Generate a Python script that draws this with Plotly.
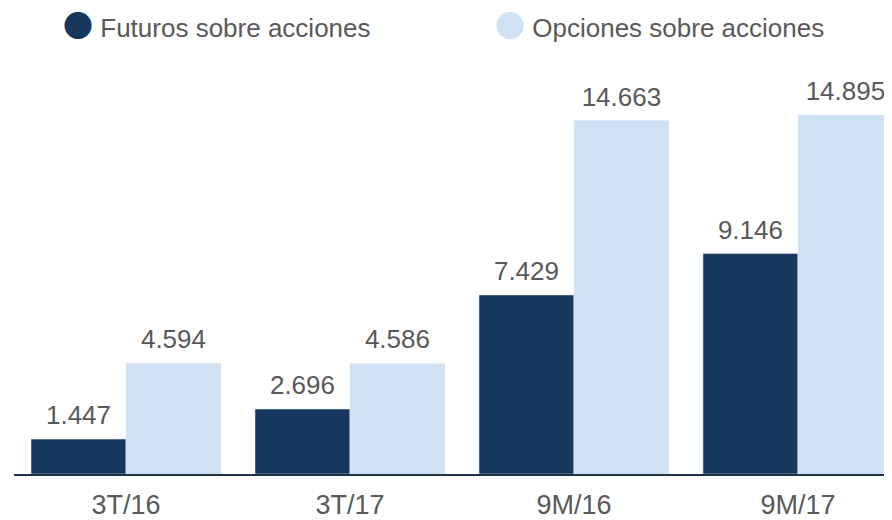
import plotly.graph_objects as go

# Volumen (miles de contratos)
categorias = ['3T/16', '3T/17', '9M/16', '9M/17']
futuros = [1447, 2696, 7429, 9146]
opciones = [4594, 4586, 14663, 14895]

color_futuros = '#17375E'
color_opciones = '#D0E1F3'
gris = '#595959'
fuente = 'Liberation Sans, Arial'

fig = go.Figure()

series = [('Futuros sobre acciones', futuros, color_futuros, 'f'),
          ('Opciones sobre acciones', opciones, color_opciones, 'o')]

for nombre, valores, color, grupo in series:
    fig.add_trace(go.Bar(
        x=categorias, y=valores, name=nombre, marker_color=color,
        offsetgroup=grupo, showlegend=False,
    ))

# value labels: transparent markers grouped like the bars so the text sits higher
for nombre, valores, color, grupo in series:
    fig.add_trace(go.Scatter(
        x=categorias, y=valores, mode='markers+text', offsetgroup=grupo,
        marker=dict(size=12, opacity=0), showlegend=False, hoverinfo='skip',
        texttemplate='%{y:,.0f}', textposition='top center',
        textfont=dict(size=26, color=gris, family=fuente), cliponaxis=False,
    ))

# legend entries: big round bullet in the label (legend symbols are capped at 16px)
# legend base font is large so the legend box is tall enough for the bullet
for nombre, valores, color, grupo in series:
    fig.add_trace(go.Scatter(
        x=[None], y=[None], mode='lines', line=dict(width=0),
        name=(f'<span style="color:{color};font-size:30px;'
              f'font-family:Noto Sans CJK SC">●</span>'
              f'<span style="font-size:26px"> {nombre}</span>'),
    ))

fig.update_layout(
    width=884, height=512,
    margin=dict(l=6, r=0, t=52, b=46, autoexpand=False),
    paper_bgcolor='white', plot_bgcolor='white',
    barmode='group', bargap=0.152, bargroupgap=0,
    scattermode='group', scattergap=0.152,
    separators=',.',
    font=dict(family=fuente, color=gris),
    legend=dict(
        orientation='h', x=0.0103, xanchor='left', y=1.0884, yanchor='middle',
        yref='paper', font=dict(size=36, color=gris),
        entrywidth=387, itemwidth=30,
    ),
    xaxis=dict(
        range=[-0.5, 3.42], showline=True, linecolor='#1F3147', linewidth=2,
        ticks='', showgrid=False, tickfont=dict(size=27, color=gris),
        ticklabelstandoff=6, automargin=False,
    ),
    yaxis=dict(range=[0, 17177], visible=False, showgrid=False,
               automargin=False),
)

fig.write_html("out.html")
